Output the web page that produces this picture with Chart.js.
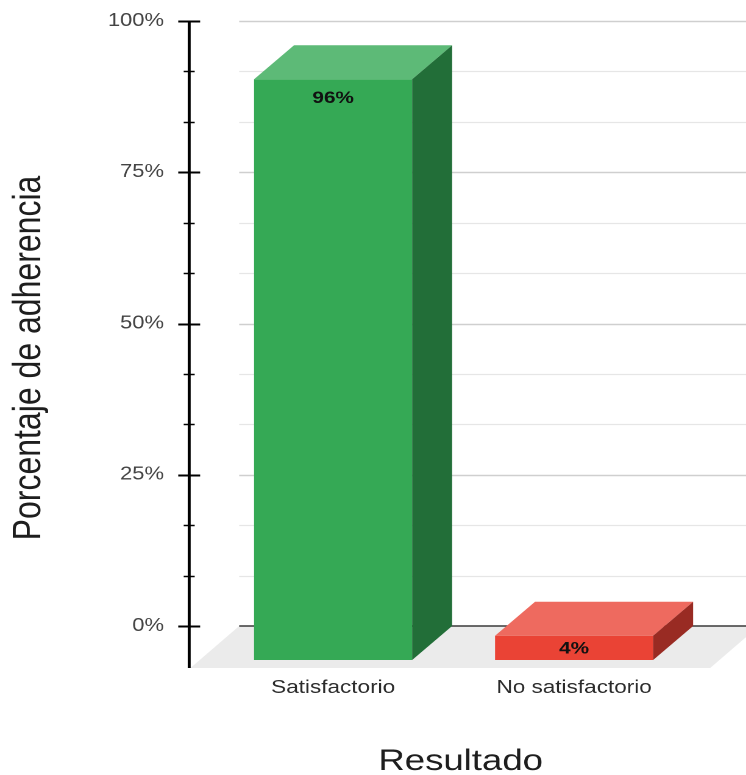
<!DOCTYPE html>
<html lang="es">
<head>
<meta charset="utf-8">
<title>Porcentaje de adherencia</title>
<script src="https://cdn.jsdelivr.net/npm/chart.js@4.4.1/dist/chart.umd.min.js"></script>
<style>
  html, body { margin: 0; padding: 0; background: #ffffff; overflow: hidden; }
  /* the chart is laid out on a narrower canvas and widened horizontally */
  #wrap { position: absolute; left: 0; top: 0; width: 612px; height: 775px;
          transform: scaleX(1.219); transform-origin: 0 0; }
</style>
</head>
<body>
<div id="wrap"><canvas id="chart" width="612" height="775"></canvas></div>
<script>
// ---- data ----
const categories = ['Satisfactorio', 'No satisfactorio'];
const adherence = [96, 4];
const yMin = 0;
const yMax = 100;
const yTickStep = 25;
const minorDivisions = 3;
const xAxisTitle = 'Resultado';
const yAxisTitle = 'Porcentaje de adherencia';

// ---- styling ----
const FONT = "'Liberation Sans', Arial, sans-serif";
const faceColors = [
  { front: '#35a955', top: '#5dba77', side: '#226e38' },
  { front: '#ea4335', top: '#ee6a5f', side: '#992b23' }
];
const barDepth = { dx: 32.8, dy: 34 };     // perspective offset of the bars
const floorDepth = { dx: 40, dy: 42 };     // perspective offset of the floor

const threeD = {
  id: 'threeD',
  beforeDatasetsDraw(chart) {
    const { ctx, chartArea, scales: { y } } = chart;
    const base = y.getPixelForValue(0);
    const left = chartArea.left - 11;
    const right = chartArea.right + 20;

    ctx.save();
    // floor
    ctx.fillStyle = '#ebebeb';
    ctx.beginPath();
    ctx.moveTo(left, base);
    ctx.lineTo(right, base);
    ctx.lineTo(right - floorDepth.dx, base + floorDepth.dy);
    ctx.lineTo(left - floorDepth.dx, base + floorDepth.dy);
    ctx.closePath();
    ctx.fill();

    // back-wall gridlines, major and minor
    const step = yTickStep / minorDivisions;
    const n = Math.round((y.max - y.min) / step);
    for (let i = 1; i <= n; i++) {
      const py = Math.round(y.getPixelForValue(y.min + i * step)) + 0.5;
      ctx.strokeStyle = i % minorDivisions === 0 ? '#cfcfcf' : '#e6e6e6';
      ctx.lineWidth = i % minorDivisions === 0 ? 1.6 : 1.2;
      ctx.beginPath();
      ctx.moveTo(left, py);
      ctx.lineTo(chart.width, py);
      ctx.stroke();
    }
    // zero line
    ctx.strokeStyle = '#3a3a3a';
    ctx.lineWidth = 1.5;
    ctx.beginPath();
    ctx.moveTo(left, base);
    ctx.lineTo(chart.width, base);
    ctx.stroke();
    ctx.restore();

    // front faces are drawn by the bar controller, shifted toward the viewer
    ctx.save();
    ctx.translate(-barDepth.dx, barDepth.dy);
  },
  afterDatasetsDraw(chart) {
    const { ctx } = chart;
    ctx.restore();
    const meta = chart.getDatasetMeta(0);
    const values = chart.data.datasets[0].data;
    meta.data.forEach((bar, i) => {
      const { x, y: top, base, width } = bar.getProps(['x', 'y', 'base', 'width'], true);
      const l = x - width / 2, r = x + width / 2;
      const c = faceColors[i % faceColors.length];
      // top face
      ctx.fillStyle = c.top;
      ctx.beginPath();
      ctx.moveTo(l - barDepth.dx, top + barDepth.dy);
      ctx.lineTo(r - barDepth.dx, top + barDepth.dy);
      ctx.lineTo(r, top);
      ctx.lineTo(l, top);
      ctx.closePath();
      ctx.fill();
      // side face
      ctx.fillStyle = c.side;
      ctx.beginPath();
      ctx.moveTo(r - barDepth.dx, top + barDepth.dy);
      ctx.lineTo(r, top);
      ctx.lineTo(r, base);
      ctx.lineTo(r - barDepth.dx, base + barDepth.dy);
      ctx.closePath();
      ctx.fill();

      // value label on the front face
      const frontTop = top + barDepth.dy;
      const frontH = base - top;
      ctx.fillStyle = '#111111';
      ctx.font = 'bold 17px ' + FONT;
      ctx.textAlign = 'center';
      ctx.textBaseline = 'middle';
      ctx.fillText(values[i] + '%', x - barDepth.dx, frontTop + Math.min(18, frontH / 2) + 1);

      // category label under the bar
      ctx.fillStyle = '#2b2b2b';
      ctx.font = '18.5px ' + FONT;
      ctx.textBaseline = 'alphabetic';
      ctx.fillText(chart.data.labels[i], x - barDepth.dx, 693);
    });
  },
  afterDraw(chart) {
    const { ctx, chartArea, scales: { y } } = chart;
    const axisX = y.right - 52;
    const base = y.getPixelForValue(0);
    ctx.save();
    // vertical axis with major and minor ticks
    ctx.strokeStyle = '#000000';
    ctx.lineWidth = 2.4;
    ctx.beginPath();
    ctx.moveTo(axisX, y.getPixelForValue(y.max));
    ctx.lineTo(axisX, base + floorDepth.dy);
    ctx.stroke();
    const step = yTickStep / minorDivisions;
    const n = Math.round((y.max - y.min) / step);
    for (let i = 0; i <= n; i++) {
      const py = Math.round(y.getPixelForValue(y.min + i * step)) + 0.5;
      const major = i % minorDivisions === 0;
      const half = major ? 9 : 4.5;
      ctx.lineWidth = major ? 2 : 1.5;
      ctx.beginPath();
      ctx.moveTo(axisX - half, py);
      ctx.lineTo(axisX + half, py);
      ctx.stroke();
    }

    // axis titles
    ctx.fillStyle = '#1e1e1e';
    ctx.font = '30px ' + FONT;
    ctx.textAlign = 'center';
    ctx.textBaseline = 'alphabetic';
    ctx.fillText(xAxisTitle, (chartArea.left + chartArea.right) / 2 - 27, 770);

    ctx.translate(32.8, 358);
    ctx.rotate(-Math.PI / 2);
    ctx.font = '32px ' + FONT;
    ctx.fillText(yAxisTitle, 0, 0);
    ctx.restore();
  }
};

new Chart(document.getElementById('chart'), {
  type: 'bar',
  data: {
    labels: categories,
    datasets: [{
      data: adherence,
      backgroundColor: faceColors.map(c => c.front),
      borderWidth: 0,
      barPercentage: 0.656,
      categoryPercentage: 1
    }]
  },
  options: {
    responsive: false,
    animation: false,
    devicePixelRatio: 2,
    layout: { padding: { left: 0, right: 9.4, top: 21, bottom: 149 } },
    plugins: { legend: { display: false }, tooltip: { enabled: false }, title: { display: false } },
    scales: {
      x: { display: false },
      y: {
        min: yMin,
        max: yMax,
        // tick marks are drawn by the plugin; the tick length only sets the label gap
        grid: { display: false, drawTicks: true, tickLength: 72.7 },
        border: { display: false },
        ticks: {
          stepSize: yTickStep,
          padding: 0,
          color: '#444444',
          font: { family: FONT, size: 18 },
          callback: v => v + '%'
        },
        afterFit(scale) { scale.width = 207.2; }
      }
    }
  },
  plugins: [threeD]
});
</script>
</body>
</html>
